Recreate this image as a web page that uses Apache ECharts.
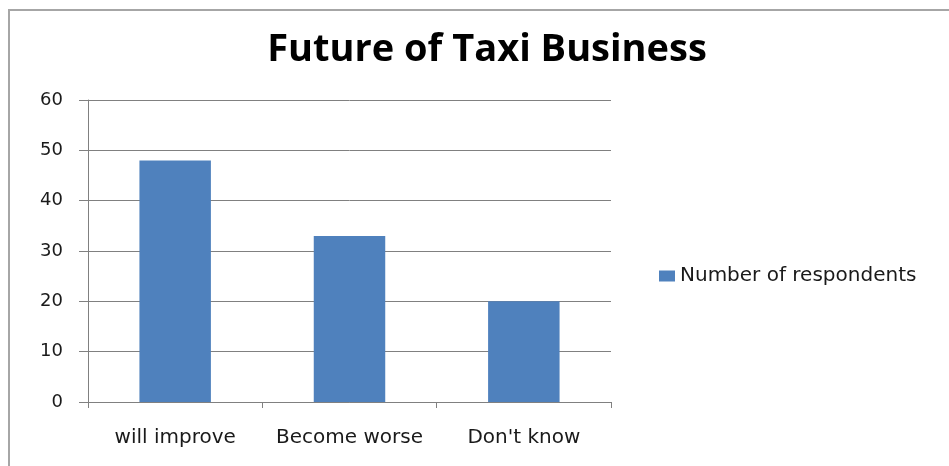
<!DOCTYPE html>
<html>
<head>
<meta charset="utf-8">
<title>Future of Taxi Business</title>
<script src="https://cdn.jsdelivr.net/npm/echarts@6/dist/echarts.min.js"></script>
<style>
  html, body { margin: 0; padding: 0; background: #ffffff; }
  #chart { width: 949px; height: 466px; }
</style>
</head>
<body>
<div id="chart"></div>
<script>
// Survey answers about where the taxi business is heading
const categories = ['will improve', 'Become worse', "Don't know"];
const respondents = [48, 33, 20];
const seriesName = 'Number of respondents';
const yTicks = { min: 0, max: 60, step: 10 };

const axisGray = '#808080';
const barBlue = '#4f81bd';
const labelFont = 'DejaVu Sans, Verdana, sans-serif';

const chart = echarts.init(document.getElementById('chart'), null, { renderer: 'canvas' });

chart.setOption({
  backgroundColor: '#ffffff',
  animation: false,
  title: {
    text: 'Future of Taxi Business',
    left: 482,
    textAlign: 'center',
    top: 26,
    textStyle: {
      fontFamily: 'Open Sans, sans-serif',
      fontWeight: 'bold',
      fontSize: 38,
      color: '#000000'
    }
  },
  legend: {
    data: [seriesName],
    orient: 'vertical',
    left: 654,
    top: 261,
    itemWidth: 16,
    itemHeight: 11,
    icon: 'rect',
    textStyle: { fontFamily: labelFont, fontSize: 20, color: '#1a1a1a' }
  },
  grid: { left: 88, right: 338, top: 100, bottom: 64, containLabel: false },
  xAxis: {
    type: 'category',
    data: categories,
    axisLine: { lineStyle: { color: axisGray, width: 1 } },
    axisTick: { show: true, interval: 0, length: 6, lineStyle: { color: axisGray } },
    axisLabel: { interval: 0, margin: 26, fontFamily: labelFont, fontSize: 20, color: '#1a1a1a' },
    splitLine: { show: false }
  },
  yAxis: {
    type: 'value',
    min: yTicks.min,
    max: yTicks.max,
    interval: yTicks.step,
    axisLine: { show: true, lineStyle: { color: axisGray, width: 1 } },
    axisTick: { show: true, length: 9, lineStyle: { color: axisGray } },
    axisLabel: { margin: 25, fontFamily: labelFont, fontSize: 18, color: '#1a1a1a' },
    splitLine: { show: true, lineStyle: { color: axisGray, width: 1 } }
  },
  series: [{
    name: seriesName,
    type: 'bar',
    data: respondents,
    barWidth: '41%',
    itemStyle: { color: barBlue }
  }],
  graphic: [{
    type: 'rect',
    shape: { x: 9, y: 10, width: 1000, height: 500 },
    style: { fill: 'none', stroke: '#a6a6a6', lineWidth: 2 },
    silent: true
  }]
});
</script>
</body>
</html>
